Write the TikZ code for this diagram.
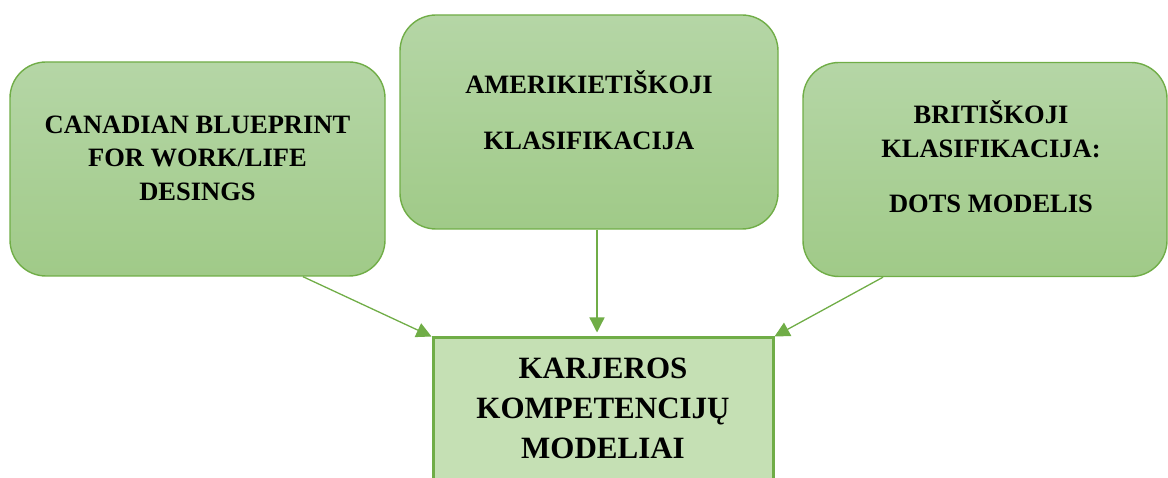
\documentclass[tikz,border=0pt]{standalone}
\usepackage{fontspec}
\setmainfont{Liberation Serif}
\usetikzlibrary{arrows.meta}
\definecolor{gedge}{HTML}{70AD47}
\definecolor{gtop}{HTML}{B5D6A6}
\definecolor{gbot}{HTML}{A0CA88}
\definecolor{gfill}{HTML}{C5E0B4}
\tikzset{
  topbox/.style={draw=gedge, line width=1.4pt, rounded corners=36pt,
    top color=gtop, bottom color=gbot, minimum width=#1, minimum height=214pt,
    inner sep=0pt},
  resbox/.style={draw=gedge, line width=3pt, fill=gfill, inner sep=0pt},
  toptext/.style={font=\bfseries\fontsize{26.5}{33.5}\selectfont, align=center, inner sep=0pt},
  bigtext/.style={font=\bfseries\fontsize{31}{40}\selectfont, align=center, inner sep=0pt},
  conn/.style={draw=gedge, line width=1.3pt, -{Triangle[length=15pt,width=15pt]}}
}
\begin{document}
\begin{tikzpicture}[x=1pt,y=-1pt]
\useasboundingbox (0,0) rectangle (1168,478);
\clip (0,0) rectangle (1168,478);
% boxes
\node[topbox=375pt] (lb) at (197.5,169) {};
\node[topbox=378pt] (mb) at (589,122) {};
\node[topbox=364pt] (rb) at (985,169.5) {};
\node[resbox, minimum width=340pt, minimum height=180pt] (bm) at (603,428) {};
% texts
\node[toptext] (lt) at (197.5,158) {CANADIAN BLUEPRINT\\FOR WORK/LIFE\\DESINGS};
\node[toptext] (mt) at (589,110) {AMERIKIETIŠKOJI\\[22pt]KLASIFIKACIJA};
\node[toptext] (rt) at (991,157) {BRITIŠKOJI\\KLASIFIKACIJA:\\[22pt]DOTS MODELIS};
\node[bigtext] (bt) at (603,408) {KARJEROS\\KOMPETENCIJŲ\\MODELIAI};
% connectors
\draw[conn] ([xshift=105.5pt]lb.south) -- (bm.north west);
\draw[conn] ([xshift=8pt]mb.south) -- ([xshift=-6pt,yshift=4pt]bm.north);
\draw[conn] ([xshift=-102pt]rb.south) -- (bm.north east);
\end{tikzpicture}
\end{document}
